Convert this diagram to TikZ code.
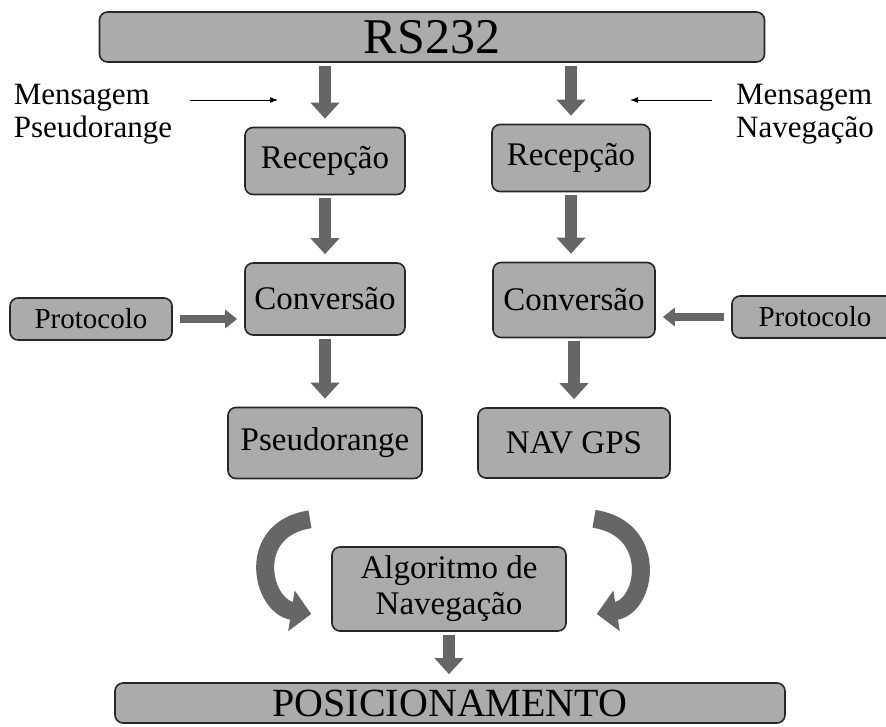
\documentclass[tikz,border=0pt]{standalone}
\usepackage{fontspec}
\setmainfont{Liberation Serif}
\usetikzlibrary{arrows.meta}
\tikzset{
  stage/.style={draw=black!85, line width=1.6pt, rounded corners=8pt, fill=black!33, inner sep=0pt, align=center, font=\fontsize{33}{36}\selectfont},
  bar/.style={stage, font=\fontsize{40}{42}\selectfont},
  small stage/.style={stage, font=\fontsize{29}{30}\selectfont},
  msg/.style={align=left, inner sep=0pt, font=\fontsize{31}{33}\selectfont},
  fat/.style={draw=black!60, line width=12pt, -{Triangle[width=28pt,length=16pt]}, shorten <=3pt, shorten >=8pt},
  fat small/.style={draw=black!60, line width=8pt, -{Triangle[width=18pt,length=12pt]}, shorten <=7pt, shorten >=7pt},
  curvy/.style={draw=black!60, line width=18pt, -{Triangle[width=40pt,length=20pt]}},
  thin/.style={line width=1pt, -{Latex[length=8pt,width=6pt]}}
}
\begin{document}
\begin{tikzpicture}[x=1pt,y=-1pt]
  \useasboundingbox (0,0) rectangle (886,726);
  % blocos
  \node[bar, minimum width=665pt, minimum height=50pt, font=\fontsize{50}{52}\selectfont] (rs) at (432,37) {RS232};
  \node[stage, minimum width=160pt, minimum height=67pt] (recL) at (325,161) {Recepção};
  \node[stage, minimum width=158pt, minimum height=67pt] (recR) at (571,158) {Recepção};
  \node[stage, minimum width=160pt, minimum height=72pt] (convL) at (325,299) {Conversão};
  \node[stage, minimum width=162pt, minimum height=75pt] (convR) at (574,300) {Conversão};
  \node[small stage, minimum width=162pt, minimum height=42pt] (protL) at (91,319) {Protocolo};
  \node[small stage, minimum width=166pt, minimum height=42pt] (protR) at (815,317) {Protocolo};
  \node[stage, minimum width=194pt, minimum height=71pt] (pseudo) at (325,443) {Pseudorange};
  \node[stage, minimum width=192pt, minimum height=70pt] (nav) at (574,443) {NAV GPS};
  \node[stage, minimum width=234pt, minimum height=84pt] (alg) at (449,589) {Algoritmo de\\Navegação};
  \node[bar, minimum width=670pt, minimum height=40pt] (pos) at (450,703) {POSICIONAMENTO};
  % mensagens
  \node[msg] (msgP) at (93,114) {Mensagem\\Pseudorange};
  \node[msg] (msgN) at (805,114) {Mensagem\\Navegação};
  \coordinate (inP) at (278,100);
  \coordinate (inN) at (630,100);
  \draw[thin] (inP -| msgP.east) ++(18,0) -- (inP);
  \draw[thin] (712,100) -- (inN);
  % setas
  \draw[fat] (recL |- rs.south) -- (recL.north);
  \draw[fat] (recR |- rs.south) -- (recR.north);
  \draw[fat] (recL.south) -- (convL.north);
  \draw[fat] (recR.south) -- (recR.south |- convR.north);
  \draw[fat] (convL.south) -- (pseudo.north);
  \draw[fat] (convR.south) -- (nav.north);
  \draw[fat] (alg.south) -- (alg.south |- pos.north);
  \draw[fat small] (protL.east) -- (protL.east -| convL.west);
  \draw[fat small] (protR.west) -- (protR.west -| convR.east);
  \draw[curvy] ([xshift=-15pt,yshift=-40pt]pseudo.south) .. controls +(-65,10) and +(-50,-8) .. ([xshift=-20pt,yshift=-25pt]alg.west);
  \draw[curvy] ([xshift=20pt,yshift=-40pt]nav.south) .. controls +(65,10) and +(50,-8) .. ([xshift=30pt,yshift=-25pt]alg.east);
\end{tikzpicture}
\end{document}
